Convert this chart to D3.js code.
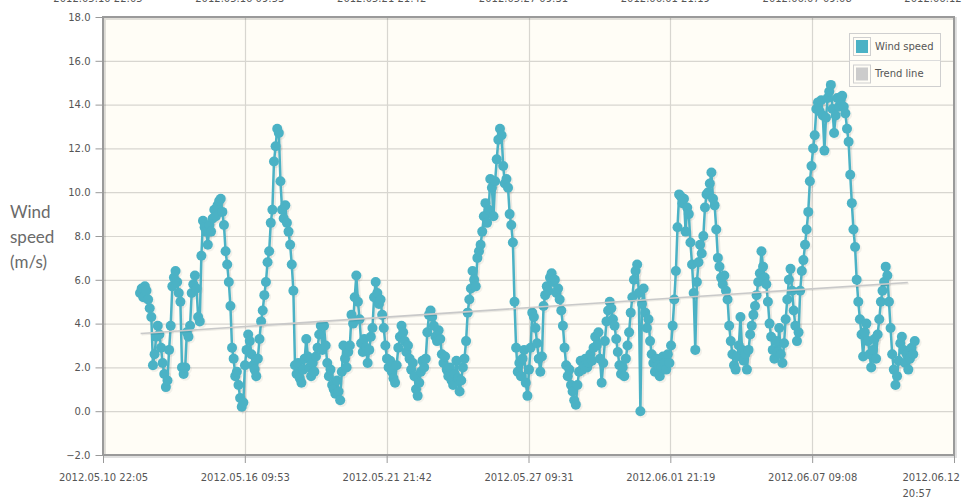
<!DOCTYPE html>
<html>
<head>
<meta charset="utf-8">
<script src="https://cdn.jsdelivr.net/npm/d3@7"></script>
<style>
  html, body { margin: 0; padding: 0; background: #ffffff; }
  svg { display: block; }
</style>
</head>
<body>
<svg id="chart" width="964" height="502"></svg>
<script>
// ---- data ----
const seriesName = "Wind speed";
const trendName = "Trend line";
const yTitleLines = ["Wind", "speed", "(m/s)"];
const xTickLabels = ["2012.05.10 22:05", "2012.05.16 09:53", "2012.05.21 21:42",
  "2012.05.27 09:31", "2012.06.01 21:19", "2012.06.07 09:08", "2012.06.12 20:57"];
const yTicks = [-2, 0, 2, 4, 6, 8, 10, 12, 14, 16, 18];
const seriesStart = "2012.05.12 08:30";
const seriesStepHours = 1.5;
const windSpeed = [
  5.4, 5.6, 5.2, 5.7, 5.5, 5.1, 4.7, 4.3, 2.1, 2.6,
  3.4, 3.9, 3.5, 2.9, 2.2, 1.7, 1.1, 1.4, 2.8, 3.9,
  5.7, 6.1, 6.4, 5.9, 5.4, 5.0, 2.0, 1.7, 2.0, 3.6,
  3.4, 3.9, 5.4, 5.8, 6.2, 5.6, 4.3, 4.1, 7.1, 8.7,
  8.4, 8.2, 7.6, 8.5, 8.2, 8.8, 9.2, 8.9, 9.4, 9.6,
  9.7, 9.1, 8.5, 7.3, 6.7, 5.9, 4.8, 2.9, 2.4, 1.6,
  1.8, 1.2, 0.6, 0.2, 0.4, 2.1, 2.8, 3.5, 3.2, 2.6,
  2.1, 1.9, 1.6, 2.4, 3.3, 4.1, 4.6, 5.3, 5.9, 6.8,
  7.3, 8.6, 9.2, 11.4, 12.1, 12.9, 12.7, 10.5, 9.2, 8.8,
  9.4, 8.6, 8.2, 7.6, 6.7, 5.5, 2.1, 1.7, 2.2, 1.5,
  1.3, 1.9, 2.4, 3.3, 2.5, 2.0, 1.6, 2.2, 1.8, 2.5,
  2.9, 3.5, 3.9, 2.8, 3.9, 3.0, 2.2, 1.6, 1.9, 1.2,
  1.0, 0.8, 1.4, 0.9, 0.5, 1.8, 3.0, 2.4, 2.0, 2.7,
  3.0, 4.4, 4.0, 5.2, 6.2, 5.0, 4.2, 3.1, 2.7, 3.3,
  2.9, 2.2, 2.8, 3.4, 3.8, 5.2, 5.9, 5.4, 4.9, 5.1,
  4.4, 3.8, 3.0, 2.4, 2.0, 2.3, 1.8, 1.5, 1.3, 2.1,
  2.9, 3.4, 3.9, 3.6, 3.2, 2.7, 3.0, 2.4, 1.9, 2.2,
  1.6, 1.0, 0.7, 1.3, 1.8, 2.3, 2.0, 2.4, 3.6, 4.4,
  4.6, 4.3, 3.9, 3.4, 3.2, 3.7, 3.3, 2.6, 2.2, 2.5,
  1.9, 1.6, 2.0, 1.4, 1.2, 1.7, 2.3, 1.5, 0.9, 1.4,
  2.0, 2.4, 3.2, 4.5, 5.1, 5.6, 6.4, 6.0, 5.7, 7.0,
  7.3, 7.6, 8.2, 8.9, 9.5, 8.6, 9.2, 10.6, 10.2, 8.9,
  10.5, 11.5, 12.4, 12.9, 12.6, 11.2, 10.4, 10.6, 10.2, 9.0,
  8.5, 7.7, 5.0, 2.9, 1.8, 2.2, 1.6, 2.4, 2.8, 1.3,
  0.7, 1.9, 2.9, 4.5, 4.3, 3.8, 3.1, 2.4, 1.8, 2.5,
  4.8, 5.3, 5.7, 5.5, 6.1, 6.3, 5.9, 6.0, 5.4, 5.6,
  5.1, 4.6, 3.9, 2.9, 2.1, 1.6, 1.9, 1.2, 0.9, 0.5,
  0.3, 1.2, 1.8, 2.3, 1.9, 2.1, 2.4, 2.0, 2.2, 2.6,
  2.3, 2.9, 3.4, 3.0, 3.6, 2.4, 1.3, 2.2, 3.2, 4.1,
  4.6, 5.0, 4.7, 4.2, 3.9, 3.3, 2.7, 2.1, 1.7, 2.0,
  1.6, 2.4, 3.0, 3.6, 4.5, 5.2, 6.0, 6.4, 6.7, 5.4,
  0.0, 4.9, 5.6, 4.5, 3.8, 4.2, 3.2, 2.6, 2.2, 1.8,
  2.4, 2.1, 1.6, 2.0, 2.5, 2.2, 1.9, 2.6, 2.2, 3.0,
  3.9, 5.1, 6.4, 8.4, 9.9, 9.8, 9.5, 9.7, 8.2, 9.3,
  9.0, 7.7, 6.7, 5.4, 2.8, 5.9, 6.8, 7.6, 7.2, 8.0,
  9.3, 9.9, 10.0, 10.4, 10.9, 9.7, 9.4, 8.3, 7.0, 6.6,
  6.1, 5.8, 6.2, 5.5, 5.1, 3.9, 3.2, 2.6, 2.1, 1.9,
  2.5, 3.0, 4.3, 2.8, 2.3, 2.6, 1.9, 2.8, 3.5, 3.9,
  4.4, 4.8, 5.3, 5.9, 6.3, 7.3, 6.6, 6.1, 5.8, 5.0,
  4.0, 3.4, 2.8, 2.4, 3.2, 2.7, 3.8, 2.6, 2.2, 3.1,
  4.2, 5.1, 6.0, 6.5, 5.5, 4.6, 3.9, 3.2, 3.6, 5.5,
  6.4, 6.9, 7.6, 8.3, 9.1, 10.5, 11.2, 12.0, 12.6, 13.8,
  14.1, 13.7, 14.2, 13.5, 11.9, 13.4, 14.3, 14.6, 14.9, 13.8,
  12.7, 13.5, 14.3, 13.9, 14.2, 14.4, 13.9, 13.6, 12.9, 12.3,
  10.8, 9.5, 8.3, 7.5, 6.0, 5.0, 4.2, 3.5, 2.5, 3.6,
  4.0, 3.2, 2.6, 2.0, 2.8, 3.3, 2.4, 3.5, 4.2, 5.0,
  5.5, 5.9, 6.6, 6.2, 5.0, 3.8, 2.6, 1.9, 1.2, 1.6,
  2.3, 3.1, 3.4, 2.8, 2.2, 2.6, 1.9, 2.4, 2.9, 2.6,
  3.2
];
const trendDates = ["2012.05.12 09:00", "2012.06.11 02:00"];
const trendValues = [3.55, 5.88];

// ---- layout ----
const svg = d3.select("#chart");
const plot = { left: 103, top: 17, right: 954, bottom: 455 };
const parse = d3.timeParse("%Y.%m.%d %H:%M");
const xTickDates = xTickLabels.map(parse);

const x = d3.scaleTime()
  .domain([xTickDates[0], xTickDates[xTickDates.length - 1]])
  .range([plot.left, plot.right]);
const y = d3.scaleLinear().domain([-2, 18]).range([plot.bottom, plot.top]);

const t0 = parse(seriesStart);
const data = windSpeed.map((v, i) => ({ date: new Date(t0.getTime() + i * seriesStepHours * 3600e3), v }));
const trend = trendDates.map((d, i) => ({ date: parse(d), v: trendValues[i] }));

const fontFam = "'DejaVu Sans', Verdana, sans-serif";

// background
svg.append("rect")
  .attr("x", plot.left).attr("y", plot.top)
  .attr("width", plot.right - plot.left).attr("height", plot.bottom - plot.top)
  .attr("fill", "#fffdf6");

// grid
const grid = svg.append("g");
grid.selectAll("line.h").data(yTicks).join("line")
  .attr("x1", plot.left).attr("x2", plot.right)
  .attr("y1", d => y(d) + 0.5).attr("y2", d => y(d) + 0.5)
  .attr("stroke", "#d8d6d0").attr("stroke-width", 1.2);
grid.selectAll("line.v").data(xTickDates).join("line")
  .attr("y1", plot.top).attr("y2", plot.bottom)
  .attr("x1", d => Math.round(x(d)) + 0.5).attr("x2", d => Math.round(x(d)) + 0.5)
  .attr("stroke", "#d8d6d0").attr("stroke-width", 1.2);

// border shadow + border
svg.append("rect")
  .attr("x", plot.left + 1.5).attr("y", plot.top + 1.5)
  .attr("width", plot.right - plot.left).attr("height", plot.bottom - plot.top)
  .attr("fill", "none").attr("stroke", "rgba(0,0,0,0.12)").attr("stroke-width", 3);
svg.append("rect")
  .attr("x", plot.left).attr("y", plot.top)
  .attr("width", plot.right - plot.left).attr("height", plot.bottom - plot.top)
  .attr("fill", "none").attr("stroke", "#9a9a9a").attr("stroke-width", 2);

// y axis
const yAxis = d3.axisLeft(y).tickValues(yTicks).tickFormat(d3.format(".1f")).tickSize(7).tickPadding(5);
const gy = svg.append("g").attr("transform", `translate(${plot.left - 0.5},0)`).call(yAxis);
gy.select(".domain").remove();
gy.selectAll(".tick line").attr("stroke", "#999");
gy.selectAll(".tick text").attr("fill", "#555").style("font-family", fontFam).style("font-size", "10px");

// x axis
const xAxis = d3.axisBottom(x).tickValues(xTickDates).tickFormat((d, i) => xTickLabels[i]).tickSize(8).tickPadding(11);
const gx = svg.append("g").attr("transform", `translate(0,${plot.bottom})`).call(xAxis);
gx.select(".domain").remove();
gx.selectAll(".tick line").attr("stroke", "#999");
gx.selectAll(".tick text").attr("fill", "#555").style("font-family", fontFam).style("font-size", "10px");
// last label wraps onto two lines
const lastTick = gx.selectAll(".tick").filter((d, i) => i === xTickDates.length - 1);
lastTick.select("text").each(function () {
  const t = d3.select(this);
  const parts = xTickLabels[xTickLabels.length - 1].split(" ");
  t.text(null).attr("text-anchor", "start").attr("x", -52).attr("dy", null);
  t.append("tspan").attr("x", -52).attr("dy", "0.71em").text(parts[0]);
  t.append("tspan").attr("x", -52).attr("dy", "1.6em").text(parts[1]);
});

// top axis labels (cut off by the page edge, as in the reference)
svg.append("g").selectAll("text").data(xTickDates).join("text")
  .attr("x", d => x(d) - 5).attr("y", 1.5)
  .attr("text-anchor", "middle").attr("fill", "#555")
  .style("font-family", fontFam).style("font-size", "10px")
  .text((d, i) => xTickLabels[i]);

// y title
svg.append("g").selectAll("text").data(yTitleLines).join("text")
  .attr("x", 10).attr("y", (d, i) => 218 + i * 25)
  .attr("fill", "#6a6a6a").style("font-family", "Lato, 'Open Sans', sans-serif").style("font-size", "17px")
  .text(d => d);

// clip
svg.append("clipPath").attr("id", "clip").append("rect")
  .attr("x", plot.left).attr("y", plot.top - 10)
  .attr("width", plot.right - plot.left).attr("height", plot.bottom - plot.top + 10);

const series = svg.append("g").attr("clip-path", "url(#clip)");
const line = d3.line().x(d => x(d.date)).y(d => y(d.v));

// series shadow
series.append("path").datum(data).attr("d", line)
  .attr("transform", "translate(1.5,1.5)")
  .attr("fill", "none").attr("stroke", "rgba(0,0,0,0.08)").attr("stroke-width", 3.5);
series.append("g").attr("transform", "translate(1.5,1.5)")
  .selectAll("circle").data(data).join("circle")
  .attr("cx", d => x(d.date)).attr("cy", d => y(d.v)).attr("r", 5.3)
  .attr("fill", "rgba(0,0,0,0.05)");

// series
series.append("path").datum(data).attr("d", line)
  .attr("fill", "none").attr("stroke", "#4bb2c5").attr("stroke-width", 2.5).attr("stroke-linejoin", "round");
series.append("g").selectAll("circle").data(data).join("circle")
  .attr("cx", d => x(d.date)).attr("cy", d => y(d.v)).attr("r", 5)
  .attr("fill", "#4bb2c5");

// trend line
series.append("path").datum(trend).attr("d", line)
  .attr("transform", "translate(1,1)")
  .attr("fill", "none").attr("stroke", "rgba(0,0,0,0.07)").attr("stroke-width", 2);
series.append("path").datum(trend).attr("d", line)
  .attr("fill", "none").attr("stroke", "#c9c9c9").attr("stroke-width", 1.6);

// legend
const lg = svg.append("g");
lg.append("rect").attr("x", 849.5).attr("y", 33.5).attr("width", 91).attr("height", 53)
  .attr("fill", "#fffdf6").attr("stroke", "#cfcfcf");
lg.append("line").attr("x1", 849.5).attr("x2", 940.5).attr("y1", 60.5).attr("y2", 60.5).attr("stroke", "#dcdcdc");
const legendItems = [{ name: seriesName, color: "#4bb2c5" }, { name: trendName, color: "#cccccc" }];
legendItems.forEach((it, i) => {
  const yy = 37 + i * 27.5;
  lg.append("rect").attr("x", 853.5).attr("y", yy + 0.5).attr("width", 17).attr("height", 18)
    .attr("fill", "none").attr("stroke", "#cfcfcf");
  lg.append("rect").attr("x", 856).attr("y", yy + 3).attr("width", 12).attr("height", 13)
    .attr("fill", it.color);
  lg.append("text").attr("x", 875).attr("y", yy + 12.5)
    .attr("fill", "#555").style("font-family", fontFam).style("font-size", "10px")
    .text(it.name);
});
</script>
</body>
</html>
